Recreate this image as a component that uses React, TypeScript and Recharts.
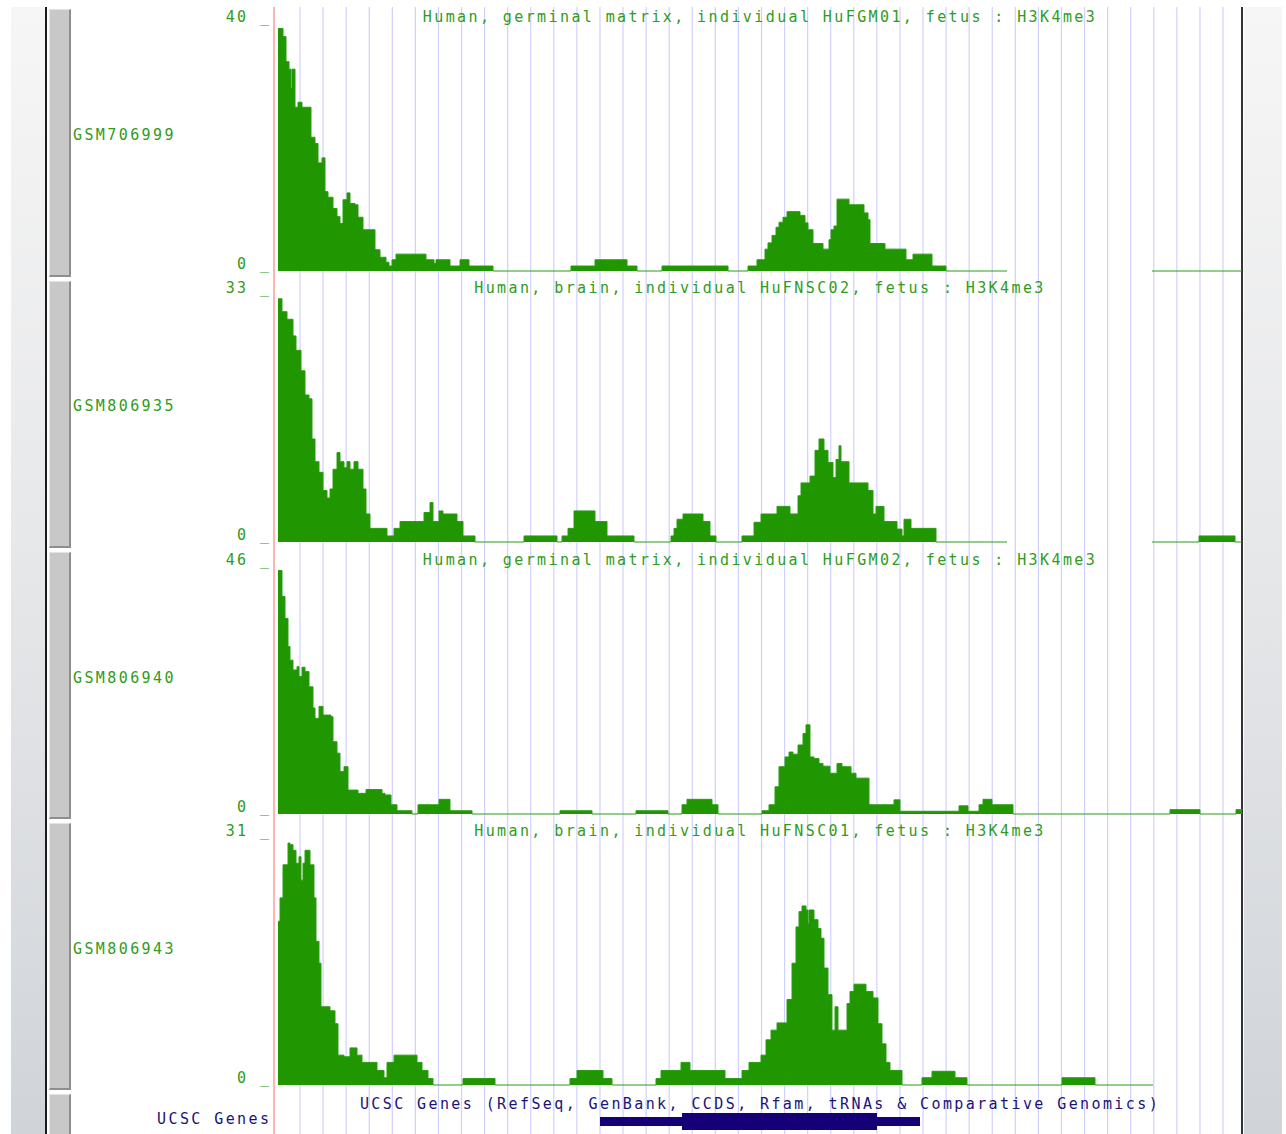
import React from 'react';
import { AreaChart, Area, XAxis, YAxis, CartesianGrid, BarChart, Bar } from 'recharts';

type Step = [number, number | null];

// ---- Track metadata ----
const trackIds = ['GSM706999', 'GSM806935', 'GSM806940', 'GSM806943'];
const trackTitles = [
  'Human, germinal matrix, individual HuFGM01, fetus : H3K4me3',
  'Human, brain, individual HuFNSC02, fetus : H3K4me3',
  'Human, germinal matrix, individual HuFGM02, fetus : H3K4me3',
  'Human, brain, individual HuFNSC01, fetus : H3K4me3',
];
const trackMax = [40, 33, 46, 31];

// ---- Signal (position in window bins, value; value holds until next position; null = no data) ----
const huFGM01: Step[] = [
  [0, 38.8], [5, 37.5], [8, 33.5], [11, 32.3], [13, 29.2], [14, 32.3], [17, 26.2], [20, 27], [24, 26.2],
  [33, 21.4], [37, 20.4], [40, 17.3], [44, 18.1], [47, 12.7], [50, 11.8], [55, 10], [59, 8.7], [62, 7.6],
  [65, 11.4], [69, 12.5], [72, 10.8], [77, 10.6], [80, 8.6], [85, 6.6], [97, 3.4], [102, 2.2], [108, 1.4],
  [111, 0.8], [114, 1.8], [118, 2.7], [148, 1.8], [156, 1.2], [158, 1.8], [172, 0.8], [182, 1.8], [191, 0.8],
  [215, 0], [293, 0.8], [317, 1.8], [349, 0.8], [359, 0], [384, 0.8], [450, 0], [470, 0.8], [479, 1.8],
  [487, 3.5], [490, 4.5], [494, 5.7], [498, 7], [501, 7.8], [505, 8.6], [509, 9.5], [522, 8.9], [527, 7.7],
  [530, 6.6], [535, 4.4], [545, 3.5], [551, 5], [553, 6.6], [556, 7.2], [559, 11.5], [571, 10.6], [586, 9.3],
  [590, 8.2], [592, 4.4], [607, 3.5], [628, 1.8], [635, 2.7], [654, 0.8], [668, 0], [729, 0], [730, null],
  [874, 0], [964, 0],
];

const huFNSC02: Step[] = [
  [0, 32.1], [4, 30.4], [9, 29.4], [15, 27.2], [18, 25.3], [23, 22.6], [27, 19.4], [31, 18.9], [34, 13.6],
  [37, 10.6], [41, 9.2], [45, 6.8], [49, 5.8], [52, 7], [55, 9.6], [59, 11.8], [62, 10.6], [66, 9.8],
  [69, 10.6], [72, 9.6], [76, 10.6], [80, 9.6], [85, 7], [88, 3.7], [92, 1.8], [109, 0.8], [116, 1.8],
  [122, 2.7], [146, 3.9], [152, 5.2], [155, 2.7], [161, 4.1], [165, 3.7], [179, 2.7], [185, 0.8], [197, 0],
  [246, 0.8], [279, 0], [284, 0.8], [290, 1.8], [296, 4.1], [317, 2.7], [329, 0.8], [356, 0], [393, 0.8],
  [396, 1.8], [399, 3], [405, 3.7], [425, 2.7], [432, 0.8], [438, 0], [464, 0.8], [476, 2.6], [483, 3.7],
  [499, 4.7], [512, 3.7], [520, 6.1], [523, 7.8], [532, 8.7], [537, 12.1], [541, 13.6], [546, 12.1],
  [550, 10.5], [555, 8.5], [558, 10.9], [561, 12.7], [563, 10.6], [571, 7.8], [590, 6.8], [595, 3.7],
  [598, 4.7], [606, 2.7], [619, 1.7], [624, 0.8], [626, 3], [633, 1.8], [658, 0], [729, 0], [730, null],
  [874, 0], [921, 0.8], [957, 0], [964, 0],
];

const huFGM02: Step[] = [
  [0, 44.8], [4, 40], [7, 36], [10, 30.8], [12, 28.3], [15, 26.5], [19, 27.1], [21, 25.3], [24, 27],
  [27, 26.2], [31, 23.4], [35, 19.5], [37, 17.6], [41, 19.8], [45, 18.2], [53, 17.9], [55, 13.3], [59, 11.2],
  [62, 7.8], [66, 8.7], [70, 4.4], [80, 3.8], [88, 4.5], [104, 3.8], [107, 3.5], [113, 1.7], [119, 0.6],
  [134, 0], [140, 1.7], [161, 2.7], [172, 0.6], [194, 0], [282, 0.6], [314, 0], [358, 0.6], [390, 0],
  [404, 1.7], [409, 2.7], [434, 1.7], [440, 0], [484, 0.6], [491, 1.7], [497, 5], [501, 8.7], [507, 10.5],
  [511, 11.4], [515, 11], [520, 12.7], [525, 14.8], [528, 16.4], [532, 10.5], [536, 10.2], [541, 9.3],
  [545, 8.8], [552, 7.5], [559, 9.3], [564, 8.7], [573, 7.5], [578, 6.6], [591, 1.7], [616, 2.6], [622, 0.5],
  [681, 1.5], [690, 0.5], [701, 1.7], [705, 2.7], [714, 1.7], [735, 0], [892, 0.8], [922, 0], [958, 0.8],
  [964, 0.8],
];

const huFNSC01: Step[] = [
  [0, 20.3], [2, 23.2], [5, 27.3], [10, 30], [12, 29.8], [15, 29.1], [18, 27.5], [21, 28.3], [23, 25.4],
  [25, 27.5], [27, 29.1], [32, 27.3], [36, 23.2], [38, 17.8], [41, 15.1], [43, 9.7], [52, 9.2], [57, 7.6],
  [60, 3.7], [66, 3.5], [72, 4.6], [79, 3.7], [84, 2.8], [99, 1.8], [106, 0.9], [109, 2.8], [116, 3.7],
  [139, 2.8], [144, 1.8], [150, 0.8], [155, 0], [185, 0.8], [217, 0], [292, 0.8], [299, 1.8], [325, 0.8],
  [334, 0], [378, 0.8], [383, 1.8], [403, 2.8], [412, 1.8], [447, 0.8], [464, 1.8], [471, 2.8], [483, 3.7],
  [488, 5.6], [493, 6.8], [499, 7.7], [509, 10.6], [514, 15.1], [518, 19.6], [521, 21.5], [524, 22.2],
  [528, 21.7], [530, 20], [531, 21.7], [536, 20.5], [540, 19.4], [543, 18.2], [546, 14.5], [550, 11.2],
  [554, 6.8], [557, 9.7], [560, 6.8], [569, 10.1], [572, 11.6], [576, 12.5], [588, 11.6], [595, 10.8],
  [600, 7.6], [604, 5.1], [608, 2.8], [612, 1.8], [624, 0], [644, 0.9], [654, 1.7], [677, 0.9], [689, 0],
  [784, 0.9], [817, 0], [875, 0], [876, null],
];

const trackSteps = [huFGM01, huFNSC02, huFGM02, huFNSC01];

// ---- UCSC gene model (window bins) ----
const geneName = ['gene'];
const geneUtr: [number, number][] = [[322, 642]];
const geneCds: [number, number][] = [[404, 599]];

const X_MAX = 964;
const gridTicks = Array.from({ length: 41 }, (_, i) => 22 + i * 23.075);

const FONT = '"DejaVu Sans Mono", monospace';
const FONT_SIZE = 15;
const LETTER = 2.4;
const GREEN_FILL = '#209600';
const GREEN_LINE = '#2a9c14';
const GREEN_TEXT = '#2f9c1c';
const NAVY_TEXT = '#1a1478';
const NAVY_BAR = '#150078';
const GRID = '#d0d0ff';

const PLOT_LEFT = 278;
const PLOT_RIGHT_MARGIN = 44;
const TRACK_TOPS = [7, 278, 550, 821];
const TRACK_H = [271, 272, 271, 271];
const BASE_OFF = 264;
const RANGE_PX = 250;

const gridGenerator = (props: any) => {
  const scale = props?.xAxis?.scale;
  if (scale && typeof scale === 'function') return gridTicks.map((t) => scale(t));
  if (scale && typeof scale.map === 'function') return gridTicks.map((t) => scale.map(t));
  const off = props?.offset;
  const left = off?.left ?? PLOT_LEFT;
  const w = off?.width ?? X_MAX;
  return gridTicks.map((t) => left + (t / X_MAX) * w);
};

const textStyle: React.CSSProperties = {
  position: 'absolute',
  fontFamily: FONT,
  fontSize: FONT_SIZE,
  letterSpacing: LETTER,
  lineHeight: '16px',
  whiteSpace: 'pre',
};

const YTick = (props: any) => {
  const { x, y, payload } = props;
  const isZero = payload.value === 0;
  return (
    <text
      x={x - 9 + LETTER}
      y={y + (isZero ? -2 : 1)}
      textAnchor="end"
      fill={GREEN_TEXT}
      fontFamily={FONT}
      fontSize={FONT_SIZE}
      letterSpacing={LETTER}
    >{`${payload.value} _`}</text>
  );
};

function Track({ idx }: { idx: number }) {
  const max = trackMax[idx];
  const h = TRACK_H[idx];
  const data = trackSteps[idx].map(([x, v]) => ({ x, v }));
  const per = RANGE_PX / max;
  const domain = [-(h - BASE_OFF) / per, BASE_OFF / per];
  return (
    <div style={{ position: 'absolute', left: 0, top: TRACK_TOPS[idx], width: 1286, height: h }}>
      <AreaChart width={1286} height={h} data={data} margin={{ top: 0, right: PLOT_RIGHT_MARGIN, bottom: 0, left: 0 }}>
        <CartesianGrid
          vertical
          horizontal={false}
          stroke={GRID}
          strokeWidth={1.2}
          verticalCoordinatesGenerator={gridGenerator}
        />
        <XAxis
          type="number"
          dataKey="x"
          domain={[0, X_MAX]}
          ticks={gridTicks}
          tick={false}
          tickLine={false}
          axisLine={false}
          height={0}
          allowDataOverflow
        />
        <YAxis
          type="number"
          domain={domain}
          ticks={[0, max]}
          width={PLOT_LEFT}
          tickLine={false}
          tickSize={0}
          tickMargin={0}
          axisLine={false}
          tick={<YTick />}
          interval={0}
          allowDataOverflow
        />
        <Area
          type="stepAfter"
          dataKey="v"
          stroke={GREEN_LINE}
          strokeWidth={1}
          fill={GREEN_FILL}
          fillOpacity={1}
          baseValue={0}
          connectNulls={false}
          dot={false}
          activeDot={false}
          isAnimationActive={false}
        />
      </AreaChart>
      <div style={{ ...textStyle, left: PLOT_LEFT, width: 964, top: 2, textAlign: 'center', color: GREEN_TEXT }}>
        {trackTitles[idx]}
      </div>
      <div style={{ ...textStyle, left: 73, top: 120, color: GREEN_TEXT }}>{trackIds[idx]}</div>
    </div>
  );
}

function GeneTrack() {
  const utrData = geneName.map((name, i) => ({ name, span: geneUtr[i] }));
  const cdsData = geneName.map((name, i) => ({ name, span: geneCds[i] }));
  return (
    <div style={{ position: 'absolute', left: 0, top: 1092, width: 1286, height: 58 }}>
      <div style={{ position: 'absolute', left: 0, top: 0 }}>
        <BarChart layout="vertical" width={1286} height={58} data={utrData} margin={{ top: 0, right: PLOT_RIGHT_MARGIN, bottom: 0, left: PLOT_LEFT }}>
          <CartesianGrid vertical horizontal={false} stroke={GRID} strokeWidth={1.2} verticalCoordinatesGenerator={gridGenerator} />
          <XAxis type="number" domain={[0, X_MAX]} ticks={gridTicks} tick={false} tickLine={false} axisLine={false} height={0} allowDataOverflow />
          <YAxis type="category" dataKey="name" hide />
          <Bar dataKey="span" barSize={9} fill={NAVY_BAR} isAnimationActive={false} />
        </BarChart>
      </div>
      <div style={{ position: 'absolute', left: 0, top: 0 }}>
        <BarChart layout="vertical" width={1286} height={58} data={cdsData} margin={{ top: 0, right: PLOT_RIGHT_MARGIN, bottom: 0, left: PLOT_LEFT }}>
          <XAxis type="number" domain={[0, X_MAX]} hide allowDataOverflow />
          <YAxis type="category" dataKey="name" hide />
          <Bar dataKey="span" barSize={17} fill={NAVY_BAR} isAnimationActive={false} />
        </BarChart>
      </div>
      <div style={{ ...textStyle, left: PLOT_LEFT, width: 964, top: 4, textAlign: 'center', color: NAVY_TEXT }}>
        UCSC Genes (RefSeq, GenBank, CCDS, Rfam, tRNAs &amp; Comparative Genomics)
      </div>
      <div style={{ ...textStyle, left: 0, width: 269 + LETTER, top: 19, textAlign: 'right', color: NAVY_TEXT }}>UCSC Genes</div>
    </div>
  );
}

const sidePanel = 'linear-gradient(to bottom, #f6f6f6 0%, #e6e7e9 50%, #d0d4d9 100%)';
const buttonSpans: [number, number][] = [[9, 277], [281, 548], [552, 819], [823, 1090], [1094, 1140]];

export default function App() {
  return (
    <div style={{ position: 'absolute', left: 0, top: 0, width: 1286, height: 1134, overflow: 'hidden', background: '#ffffff' }}>
      <div style={{ position: 'absolute', left: 11, top: 7, width: 34, height: 1127, background: sidePanel }} />
      <div style={{ position: 'absolute', left: 1244, top: 7, width: 38, height: 1127, background: sidePanel }} />
      <div style={{ position: 'absolute', left: 45, top: 7, width: 2, height: 1127, background: '#1c1c1c' }} />
      <div style={{ position: 'absolute', left: 1241, top: 7, width: 2, height: 1127, background: '#333333' }} />
      {buttonSpans.map(([a, b], i) => (
        <div
          key={i}
          style={{
            position: 'absolute', left: 49, top: a, width: 22, height: b - a, boxSizing: 'border-box',
            background: '#c8c8c8', borderTop: '1px solid #e4e4e4', borderLeft: '1px solid #e4e4e4',
            borderRight: '2px solid #8e8e8e', borderBottom: '2px solid #8e8e8e',
          }}
        />
      ))}
      {trackIds.map((_, i) => <Track key={i} idx={i} />)}
      <GeneTrack />
      <div style={{ position: 'absolute', left: 273, top: 7, width: 2, height: 1127, background: '#ffb4b4' }} />
    </div>
  );
}
